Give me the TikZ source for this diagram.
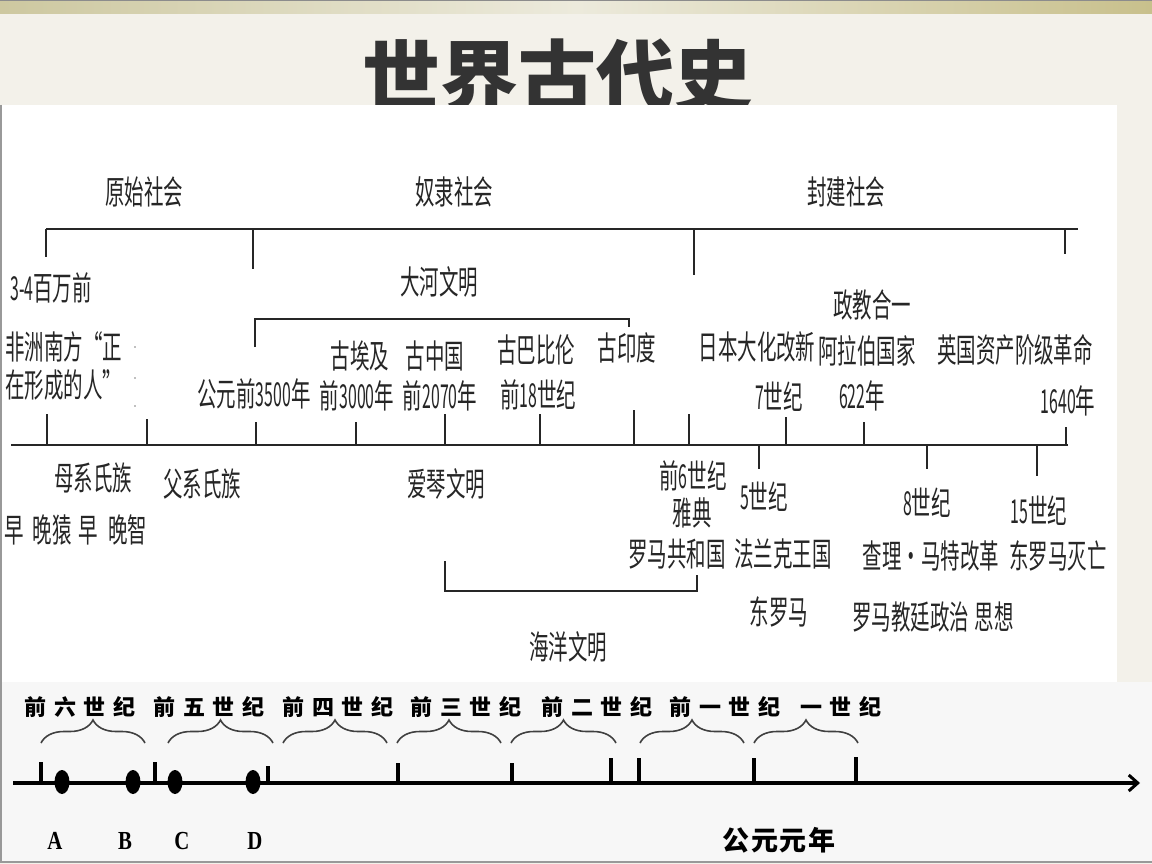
\documentclass[tikz,border=0pt]{standalone}
\usepackage{fontspec}
\usetikzlibrary{arrows.meta,decorations.pathreplacing}
\newfontfamily\cjkn{Noto Sans CJK SC}[FakeStretch=0.59]
\newfontfamily\digf{Noto Sans CJK SC}[FakeStretch=0.48]
\newfontfamily\cjkt{Noto Sans CJK SC}
\newfontfamily\cjkb{Noto Sans CJK SC}[LetterSpace=35]
\newfontfamily\cjkc{Noto Sans CJK SC}[LetterSpace=5]
\newfontfamily\abcdf{Liberation Serif}[FakeStretch=0.8]
\newcommand\dg[1]{{\digf #1}}
\definecolor{bgcream}{RGB}{243,241,234}
\definecolor{stripeL}{RGB}{205,200,160}
\definecolor{stripeM}{RGB}{236,234,220}
\definecolor{stripeR}{RGB}{200,192,140}
\definecolor{ink}{RGB}{38,38,38}
\tikzset{
  lbl/.style={font=\cjkn\fontsize{33}{38}\selectfont, inner sep=0pt, text=ink},
  axisline/.style={line width=2.4pt, draw=ink},
  tk/.style={line width=1.3pt, draw=ink},
  bline/.style={line width=4pt, draw=black},
  btk/.style={line width=3.2pt, draw=black},
  bdot/.style={fill=black, draw=none},
  bbrace/.style={decorate, decoration={brace, amplitude=23pt}, line width=1.6pt, draw=black!75},
  blbl/.style={font=\cjkb\bfseries\fontsize{22}{24}\selectfont, inner sep=0pt, text=black},
  abc/.style={font=\abcdf\bfseries\fontsize{26}{28}\selectfont, inner sep=0pt, text=black}
}
\begin{document}
\begin{tikzpicture}[x=1pt,y=-1pt]
\useasboundingbox (0,0) rectangle (1152,864);
% slide background
\fill[bgcream] (0,0) rectangle (1152,864);
\shade[left color=stripeL, right color=stripeR, middle color=stripeM] (0,0) rectangle (1152,14);
\draw[black!45, line width=1pt] (0,0.5) -- (1152,0.5);
% title
\node[font=\cjkt\bfseries\fontsize{78}{80}\selectfont, text=black!80, inner sep=0pt] (title) at (557,76) {世界古代史};
% picture panels
\fill[white] (0,105) rectangle (1117,683);
\fill[white!97!black] (0,682) rectangle (1152,862);
\draw[black!40, line width=1.5pt] (1,105) -- (1,862) -- (1152,862);

% ===== society bracket =====
\coordinate (sL) at (46,229);
\coordinate (sR) at (1078,229);
\draw[axisline] (sL) -- (sR);
\foreach \x/\y [count=\i] in {46/257, 253/269, 694/275, 1065/254}{
  \coordinate (st\i) at (\x,229);
  \coordinate (sb\i) at (\x,\y);
  \draw[tk] (st\i) -- (sb\i);
}
\node[lbl] (prim) at (144,192) {原始社会};
\node[lbl] (slave) at (454,192) {奴隶社会};
\node[lbl] (feud) at (846,192) {封建社会};

% ===== river civilisation bracket =====
\coordinate (r1) at (255,347);
\coordinate (r2) at (255,319);
\coordinate (r3) at (629,319);
\coordinate (r4) at (629,327);
\draw[tk, line width=1.6pt] (r1) -- (r2) -- (r3) -- (r4);
\node[lbl] (nriver) at (439,282) {大河文明};

% ===== main timeline =====
\coordinate (aL) at (11,445);
\coordinate (aR) at (1068,445);
\draw[axisline] (aL) -- (aR);
\foreach \x/\y [count=\i] in {47/414, 147/419, 256/422, 356/422, 445/414, 540/414, 634/410, 689/414, 786/417, 864/422, 1066/427}{
  \coordinate (ua\i) at (\x,445);
  \coordinate (ub\i) at (\x,\y);
  \draw[tk] (ua\i) -- (ub\i);
}
\foreach \x/\y [count=\i] in {759/469, 927/469, 1037/476}{
  \coordinate (da\i) at (\x,445);
  \coordinate (db\i) at (\x,\y);
  \draw[tk] (da\i) -- (db\i);
}
\foreach \y [count=\i] in {347,378,406}{
  \fill[black!50] (135,\y) circle (0.9pt);
}

% ===== sea civilisation bracket =====
\coordinate (m1) at (445,561);
\coordinate (m2) at (445,591);
\coordinate (m3) at (697,591);
\coordinate (m4) at (697,575);
\draw[tk, line width=1.6pt] (m1) -- (m2) -- (m3) -- (m4);
\node[lbl] (nsea) at (568,647) {海洋文明};

% ===== labels above the line =====
\node[lbl] (n34) at (51,288) {\dg{3-4}百万前};
\node[lbl, align=left, anchor=west] (nafr) at (5,366) {非洲南方“正\\在形成的人”};
\node[lbl] (n3500) at (254,394) {公元前\dg{3500}年};
\node[lbl] (negy) at (360,356) {古埃及};
\node[lbl] (n3000) at (357,396) {前\dg{3000}年};
\node[lbl] (nchn) at (435,356) {古中国};
\node[lbl] (n2070) at (440,396) {前\dg{2070}年};
\node[lbl] (nbab) at (536,350) {古巴比伦};
\node[lbl] (n18) at (538,395) {前\dg{18}世纪};
\node[lbl] (nind) at (627,348) {古印度};
\node[lbl] (njpn) at (757,347) {日本大化改新};
\node[lbl] (n7) at (779,397) {\dg{7}世纪};
\node[lbl] (ntheo) at (872,305) {政教合一};
\node[lbl] (narab) at (867,351) {阿拉伯国家};
\node[lbl] (n622) at (862,396) {\dg{622}年};
\node[lbl] (nbrit) at (1015,350) {英国资产阶级革命};
\node[lbl] (n1640) at (1068,401) {\dg{1640}年};

% ===== labels below the line =====
\node[lbl] (nmat) at (93,478) {母系氏族};
\node[lbl] (npat) at (202,484) {父系氏族};
\node[lbl, anchor=west] (napes) at (4,530) {早\hspace{9pt}晚猿\hspace{7pt}早\hspace{10pt}晚智};
\node[lbl] (naeg) at (446,484) {爱琴文明};
\node[lbl] (n6c) at (693,476) {前\dg{6}世纪};
\node[lbl] (nath) at (692,513) {雅典};
\node[lbl] (nrome) at (677,554) {罗马共和国};
\node[lbl] (n5c) at (764,497) {\dg{5}世纪};
\node[lbl] (nfrank) at (783,554) {法兰克王国};
\node[lbl] (n8c) at (927,503) {\dg{8}世纪};
\node[lbl] (ncharl) at (931,556) {查理・马特改革};
\node[lbl] (n15c) at (1039,511) {\dg{15}世纪};
\node[lbl] (nbyz) at (1058,556) {东罗马灭亡};
\node[lbl] (neast) at (779,612) {东罗马};
\node[lbl] (npapal) at (933,617) {罗马教廷政治\hspace{6pt}思想};

% ===== bottom timeline =====
\coordinate (bL) at (13,783);
\coordinate (bR) at (1140,783);
\draw[bline, -{Straight Barb[length=9pt,width=16pt,line width=3pt]}] (bL) -- (bR);
\foreach \x/\y [count=\i] in {41/762, 155/762, 268/766, 398/763, 512/763, 611/758, 639/758, 754/758, 856/757}{
  \coordinate (ba\i) at (\x,783);
  \coordinate (bt\i) at (\x,\y);
  \draw[btk] (ba\i) -- (bt\i);
}
\foreach \x/\n in {62/A, 133/B, 175/C, 253/D}{
  \fill[bdot] (\x,782) ellipse (7.5pt and 12pt);
}
\foreach \a/\b [count=\i] in {41/145, 168/273, 283/387, 397/501, 511/616, 640/744, 754/858}{
  \coordinate (bra\i) at (\a,743);
  \coordinate (brb\i) at (\b,743);
  \draw[bbrace] (bra\i) -- (brb\i);
}
\node[blbl] (c6) at (80,707) {前六世纪};
\node[blbl] (c5) at (209,707) {前五世纪};
\node[blbl] (c4) at (338,707) {前四世纪};
\node[blbl] (c3) at (466,707) {前三世纪};
\node[blbl] (c2) at (597,707) {前二世纪};
\node[blbl] (c1) at (725,707) {前一世纪};
\node[blbl] (c0) at (841,707) {一世纪};
\node[abc] (lA) at (55,841) {A};
\node[abc] (lB) at (125,841) {B};
\node[abc] (lC) at (182,841) {C};
\node[abc] (lD) at (255,841) {D};
\node[font=\cjkc\bfseries\fontsize{27}{29}\selectfont, inner sep=0pt, text=black] (ce) at (779,840) {公元元年};
\end{tikzpicture}
\end{document}
